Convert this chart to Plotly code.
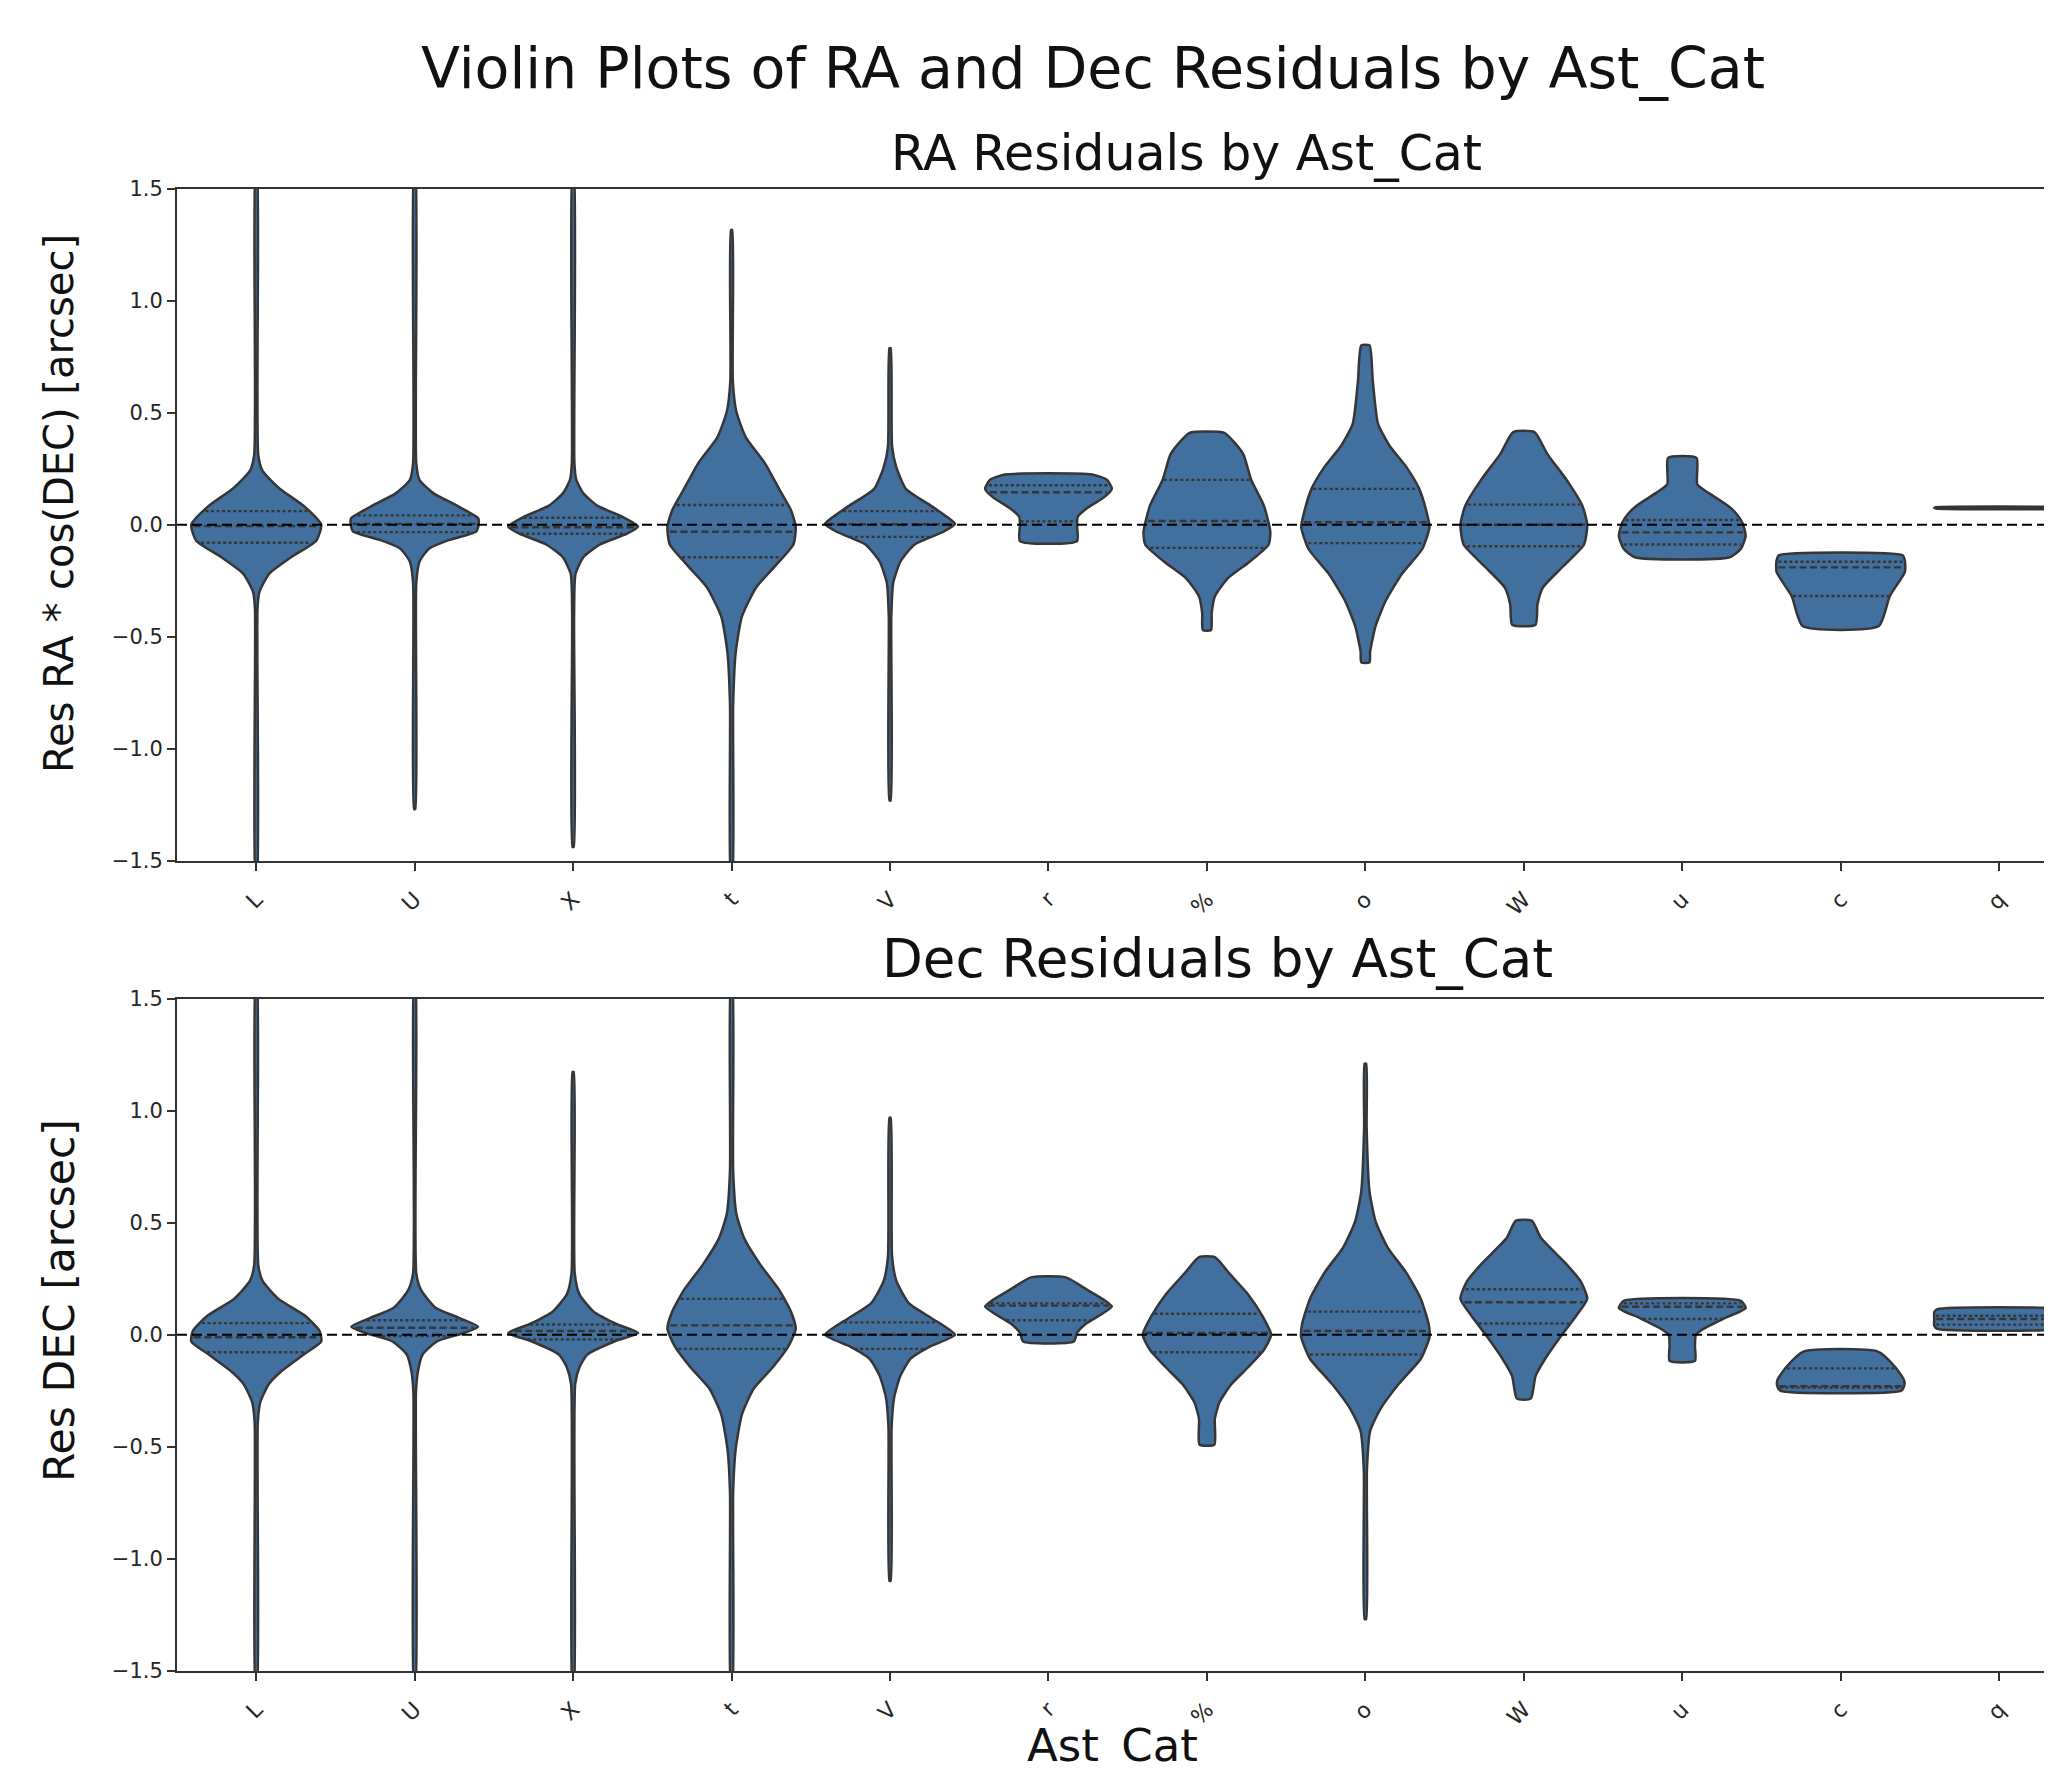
import numpy as np
import plotly.graph_objects as go

# ---------------- data ----------------
CATEGORIES = ["L", "U", "X", "t", "V", "r", "%", "o", "W", "u", "c", "q"]
Y_TICK_VALUES = [-1.5, -1.0, -0.5, 0.0, 0.5, 1.0, 1.5]
Y_TICK_LABELS = ["−1.5", "−1.0", "−0.5", "0.0", "0.5", "1.0", "1.5"]

# RA residual violins: density profile (y level, half width in category units)
RA_PROFILE_Y = [
    [-1.6, -0.375, -0.30, -0.22, -0.145, -0.07, 0.0, 0.084, 0.16, 0.24, 0.31, 1.6],
    [-1.268, -0.26, -0.165, -0.107, -0.07, -0.03, 0.01, 0.03, 0.084, 0.14, 0.2, 0.275, 1.6],
    [-1.437, -0.41, -0.22, -0.145, -0.088, -0.04, -0.008, 0.036, 0.084, 0.14, 0.2, 0.275, 1.6],
    [-1.6, -0.8, -0.57, -0.41, -0.28, -0.18, -0.088, -0.01, 0.065, 0.16, 0.275, 0.39, 0.505, 0.64, 1.314],
    [-1.23, -0.41, -0.26, -0.165, -0.088, -0.03, 0.004, 0.027, 0.084, 0.16, 0.256, 0.35, 0.788],
    [-0.073, 0.0, 0.036, 0.075, 0.122, 0.16, 0.20, 0.224],
    [-0.47, -0.394, -0.32, -0.24, -0.165, -0.088, -0.03, 0.084, 0.2, 0.314, 0.37, 0.41],
    [-0.614, -0.566, -0.45, -0.337, -0.22, -0.107, -0.01, 0.046, 0.16, 0.256, 0.35, 0.45, 0.64, 0.80],
    [-0.446, -0.356, -0.28, -0.184, -0.088, 0.0, 0.084, 0.2, 0.314, 0.413],
    [-0.145, -0.107, -0.05, 0.008, 0.05, 0.084, 0.14, 0.18, 0.298],
    [-0.452, -0.318, -0.21, -0.16, -0.136],
    [0.072, 0.075, 0.078],
]
RA_PROFILE_W = [
    [0.004, 0.008, 0.02, 0.08, 0.22, 0.38, 0.41, 0.30, 0.15, 0.04, 0.013, 0.004],
    [0.004, 0.01, 0.03, 0.09, 0.21, 0.39, 0.405, 0.40, 0.27, 0.12, 0.03, 0.01, 0.004],
    [0.004, 0.006, 0.015, 0.065, 0.17, 0.34, 0.41, 0.31, 0.155, 0.065, 0.02, 0.008, 0.004],
    [0.004, 0.01, 0.026, 0.065, 0.155, 0.28, 0.39, 0.405, 0.375, 0.30, 0.21, 0.09, 0.03, 0.008, 0.004],
    [0.004, 0.008, 0.02, 0.065, 0.155, 0.34, 0.41, 0.375, 0.26, 0.10, 0.04, 0.013, 0.004],
    [0.18, 0.18, 0.185, 0.245, 0.35, 0.40, 0.37, 0.276],
    [0.026, 0.03, 0.05, 0.13, 0.27, 0.39, 0.40, 0.36, 0.28, 0.23, 0.17, 0.11],
    [0.026, 0.03, 0.065, 0.13, 0.23, 0.36, 0.405, 0.39, 0.34, 0.26, 0.155, 0.08, 0.047, 0.026],
    [0.074, 0.086, 0.12, 0.25, 0.38, 0.40, 0.37, 0.27, 0.15, 0.067],
    [0.30, 0.37, 0.40, 0.38, 0.34, 0.29, 0.17, 0.095, 0.09],
    [0.24, 0.31, 0.405, 0.405, 0.39],
    [0.40, 0.41, 0.40],
]
RA_Q1 = [-0.080, -0.033, -0.040, -0.145, -0.054, 0.015, -0.103, -0.082, -0.096, -0.088, -0.318, 0.075]
RA_MEDIAN = [-0.006, 0.004, -0.011, -0.031, 0.002, 0.145, 0.017, 0.011, 0.0, -0.034, -0.190, 0.075]
RA_Q3 = [0.061, 0.042, 0.031, 0.088, 0.061, 0.176, 0.200, 0.160, 0.090, 0.021, -0.165, 0.075]

# Dec residual violins
DEC_PROFILE_Y = [
    [-1.6, -0.39, -0.30, -0.22, -0.165, -0.088, -0.03, 0.017, 0.084, 0.16, 0.24, 0.31, 1.6],
    [-1.6, -0.26, -0.165, -0.088, -0.03, 0.008, 0.036, 0.075, 0.122, 0.2, 0.275, 1.6],
    [-1.6, -0.22, -0.145, -0.088, -0.03, 0.008, 0.046, 0.103, 0.18, 0.275, 1.171],
    [-1.6, -0.7, -0.51, -0.356, -0.24, -0.145, -0.05, 0.027, 0.103, 0.2, 0.314, 0.43, 0.54, 0.73, 1.6],
    [-1.098, -0.41, -0.28, -0.184, -0.107, -0.05, 0.0, 0.075, 0.14, 0.24, 0.35, 0.968],
    [-0.03, 0.008, 0.046, 0.094, 0.126, 0.151, 0.2, 0.256],
    [-0.49, -0.375, -0.3, -0.22, -0.145, -0.067, 0.0, 0.084, 0.18, 0.275, 0.346],
    [-1.268, -0.6, -0.43, -0.337, -0.22, -0.107, -0.01, 0.046, 0.16, 0.275, 0.39, 0.505, 0.64, 0.926, 1.209],
    [-0.285, -0.184, -0.107, -0.01, 0.084, 0.16, 0.237, 0.314, 0.43, 0.509],
    [-0.117, -0.05, 0.0, 0.027, 0.075, 0.119, 0.151],
    [-0.25, -0.23, -0.203, -0.145, -0.075],
    [0.026, 0.04, 0.07, 0.10, 0.114],
]
DEC_PROFILE_W = [
    [0.004, 0.01, 0.026, 0.08, 0.155, 0.30, 0.41, 0.40, 0.31, 0.14, 0.04, 0.013, 0.004],
    [0.004, 0.008, 0.02, 0.05, 0.14, 0.31, 0.40, 0.28, 0.13, 0.04, 0.01, 0.004],
    [0.004, 0.013, 0.04, 0.09, 0.26, 0.41, 0.28, 0.13, 0.04, 0.01, 0.004],
    [0.004, 0.01, 0.026, 0.065, 0.14, 0.26, 0.36, 0.405, 0.375, 0.30, 0.18, 0.08, 0.03, 0.01, 0.004],
    [0.004, 0.01, 0.026, 0.065, 0.13, 0.26, 0.41, 0.26, 0.12, 0.04, 0.013, 0.004],
    [0.16, 0.18, 0.23, 0.34, 0.40, 0.36, 0.245, 0.11],
    [0.047, 0.05, 0.08, 0.155, 0.26, 0.36, 0.405, 0.35, 0.26, 0.14, 0.05],
    [0.005, 0.01, 0.03, 0.09, 0.21, 0.35, 0.405, 0.40, 0.35, 0.26, 0.14, 0.065, 0.026, 0.008, 0.005],
    [0.044, 0.074, 0.135, 0.23, 0.33, 0.40, 0.36, 0.27, 0.11, 0.05],
    [0.08, 0.08, 0.086, 0.135, 0.27, 0.40, 0.37],
    [0.38, 0.40, 0.40, 0.345, 0.235],
    [0.39, 0.41, 0.41, 0.41, 0.39],
]
DEC_Q1 = [-0.078, -0.006, -0.021, -0.063, -0.063, 0.065, -0.078, -0.088, 0.050, 0.070, -0.235, 0.045]
DEC_MEDIAN = [-0.011, 0.031, 0.017, 0.042, 0.0, 0.130, 0.008, 0.017, 0.145, 0.125, -0.230, 0.070]
DEC_Q3 = [0.052, 0.065, 0.046, 0.160, 0.055, 0.140, 0.094, 0.103, 0.203, 0.140, -0.150, 0.085]

# ---------------- styling ----------------
FILL = "#41709e"
EDGE = "#363636"
FONT = "DejaVu Sans"
W, H = 2052, 1768
PAGE_OFF = 8            # default body margin of the html page
L_FIG = 177 - PAGE_OFF  # left edge of the plotting area (figure px)
CAT_STEP = 158.45       # px per category
X_RANGE = [-0.5, -0.5 + (W - L_FIG) / CAT_STEP]


def px_x(p):
    return (p - PAGE_OFF - L_FIG) / (W - L_FIG)


def px_y(p):
    return 1 - (p - PAGE_OFF) / H


fig = go.Figure()


def add_panel(prof_y, prof_w, q1, med, q3, xa, ya):
    for i, (ys, ws) in enumerate(zip(prof_y, prof_w)):
        ys = np.asarray(ys, float)
        ws = np.asarray(ws, float)
        x = np.concatenate([i + ws, (i - ws)[::-1], [i + ws[0]]])
        y = np.concatenate([ys, ys[::-1], [ys[0]]])
        fig.add_trace(go.Scatter(
            x=x, y=y, mode="lines", fill="toself", fillcolor=FILL,
            line=dict(color=EDGE, width=2.5, shape="spline", smoothing=0.55),
            xaxis=xa, yaxis=ya, hoverinfo="skip", showlegend=False))
    for vals, dash in [(q1, "3px,2.5px"), (q3, "3px,2.5px"), (med, "7px,3.5px")]:
        lx, ly = [], []
        for i, (ys, ws) in enumerate(zip(prof_y, prof_w)):
            hw = float(np.interp(vals[i], ys, ws)) * 0.97
            lx += [i - hw, i + hw, None]
            ly += [vals[i], vals[i], None]
        fig.add_trace(go.Scatter(
            x=lx, y=ly, mode="lines",
            line=dict(color=EDGE, width=2.4, dash=dash),
            xaxis=xa, yaxis=ya, hoverinfo="skip", showlegend=False))


add_panel(RA_PROFILE_Y, RA_PROFILE_W, RA_Q1, RA_MEDIAN, RA_Q3, "x", "y")
add_panel(DEC_PROFILE_Y, DEC_PROFILE_W, DEC_Q1, DEC_MEDIAN, DEC_Q3, "x2", "y2")

axis_common = dict(showline=True, linecolor="#333333", linewidth=2,
                   ticks="outside", ticklen=8, tickwidth=1.6, tickcolor="#333333",
                   showgrid=False, zeroline=False, automargin=False)

xaxis_common = dict(axis_common, range=X_RANGE, tickmode="array",
                    tickvals=list(range(len(CATEGORIES))), ticktext=CATEGORIES,
                    tickangle=-45, mirror=True, ticklabelstandoff=7,
                    tickfont=dict(family=FONT, size=22, color="#262626"))
yaxis_common = dict(axis_common, range=[-1.5, 1.5], tickmode="array",
                    tickvals=Y_TICK_VALUES, ticktext=Y_TICK_LABELS,
                    tickfont=dict(family=FONT, size=21, color="#262626"))

top_dom = [px_y(861), px_y(188.5)]
bot_dom = [px_y(1671), px_y(998.5)]

fig.update_layout(
    width=W, height=H, autosize=False,
    margin=dict(l=L_FIG, r=0, t=0, b=0, pad=0),
    paper_bgcolor="white", plot_bgcolor="white",
    font=dict(family=FONT, color="#111111"),
    xaxis=dict(xaxis_common, domain=[0, 1], anchor="y"),
    yaxis=dict(yaxis_common, domain=top_dom, anchor="x"),
    xaxis2=dict(xaxis_common, domain=[0, 1], anchor="y2"),
    yaxis2=dict(yaxis_common, domain=bot_dom, anchor="x2"),
    showlegend=False,
)

# zero reference lines
for xr, yr in [("x", "y"), ("x2", "y2")]:
    fig.add_shape(type="line", xref=f"{xr} domain", x0=0, x1=1, yref=yr, y0=0, y1=0,
                  line=dict(color="black", width=2, dash="10px,5px"), layer="above")

texts = [
    ("Violin Plots of RA and Dec Residuals by Ast_Cat", 1093, 68, 57, 0),
    ("RA Residuals by Ast_Cat", 1186, 153, 49, 0),
    ("Dec Residuals by Ast_Cat", 1217, 959, 53, 0),
    ("Res RA * cos(DEC) [arcsec]", 59, 504, 40, -90),
    ("Res DEC [arcsec]", 59, 1301, 42.5, -90),
    ("Ast_Cat", 1112, 1745, 45, 0),
]
for txt, x, y, size, ang in texts:
    fig.add_annotation(text=txt, xref="paper", yref="paper", x=px_x(x), y=px_y(y),
                       xanchor="center", yanchor="middle", showarrow=False,
                       textangle=ang, font=dict(family=FONT, size=size, color="#111111"))

fig.write_html("out.html")
